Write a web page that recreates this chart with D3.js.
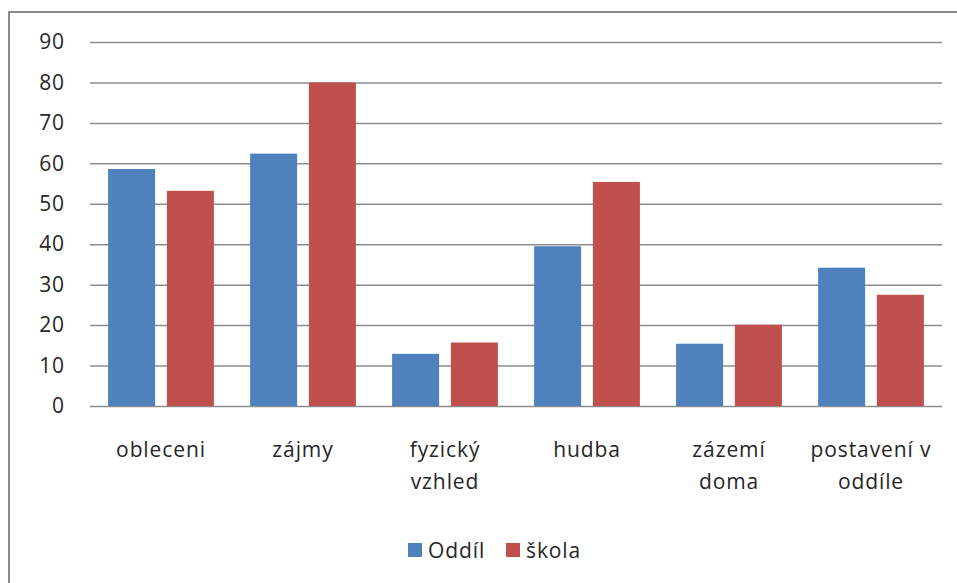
<!DOCTYPE html>
<html>
<head>
<meta charset="utf-8">
<script src="https://cdn.jsdelivr.net/npm/d3@7"></script>
<style>
  body { margin: 0; background: #fff; }
  text { font-family: "Open Sans", sans-serif; fill: #262626; letter-spacing: 0.9px; }
</style>
</head>
<body>
<svg id="chart"></svg>
<script>
// data
var categories = [["obleceni"], ["zájmy"], ["fyzický", "vzhled"], ["hudba"], ["zázemí", "doma"], ["postavení v", "oddíle"]];
var seriesNames = ["Oddíl", "škola"];
var oddil = [58.6, 62.4, 12.9, 39.5, 15.4, 34.2];
var skola = [53.2, 80.0, 15.7, 55.4, 20.1, 27.5];
var yTicks = [0, 10, 20, 30, 40, 50, 60, 70, 80, 90];
var colors = ["#4f81bd", "#c0504d"];

var width = 957, height = 583;
var margin = {top: 42, right: 15, bottom: 177, left: 90};
var innerW = width - margin.left - margin.right,
    innerH = height - margin.top - margin.bottom;

var svg = d3.select("#chart")
    .attr("width", width)
    .attr("height", height);

// outer frame (runs off the right and bottom edge)
svg.append("rect")
    .attr("x", 9).attr("y", 12)
    .attr("width", 960).attr("height", 600)
    .attr("fill", "none")
    .attr("stroke", "#8a8a8a")
    .attr("stroke-width", 2);

var g = svg.append("g")
    .attr("transform", "translate(" + margin.left + "," + margin.top + ")");

var keys = categories.map(function(c) { return c.join(" "); });

var x0 = d3.scaleBand()
    .domain(keys)
    .range([0, innerW])
    .paddingInner(0.255)
    .paddingOuter(0.1275);

var x1 = d3.scaleBand()
    .domain(seriesNames)
    .range([0, x0.bandwidth()])
    .paddingInner(0.2)
    .paddingOuter(0);

var y = d3.scaleLinear()
    .domain([0, 90])
    .range([innerH, 0]);

// gridlines
g.append("g")
    .call(d3.axisLeft(y).tickValues(yTicks).tickSize(-innerW).tickFormat(""))
    .call(function(a) { a.select(".domain").remove(); })
    .selectAll("line")
    .attr("stroke", "#8c8c8c")
    .attr("stroke-width", 1.5);

// y labels
var yAxis = g.append("g")
    .call(d3.axisLeft(y).tickValues(yTicks).tickSize(0).tickPadding(25));
yAxis.select(".domain").remove();
yAxis.selectAll("text")
    .style("font-family", "'Open Sans', sans-serif")
    .style("font-size", "21px")
    .attr("fill", "#262626");

// bars
var rows = keys.map(function(k, i) {
    return {key: k, values: [oddil[i], skola[i]]};
});

var groups = g.selectAll(".grp")
    .data(rows)
    .enter().append("g")
    .attr("class", "grp")
    .attr("transform", function(d) { return "translate(" + x0(d.key) + ",0)"; });

groups.selectAll("rect")
    .data(function(d) { return d.values.map(function(v, j) { return {name: seriesNames[j], value: v, i: j}; }); })
    .enter().append("rect")
    .attr("x", function(d) { return x1(d.name); })
    .attr("y", function(d) { return y(d.value); })
    .attr("width", x1.bandwidth())
    .attr("height", function(d) { return innerH - y(d.value); })
    .attr("fill", function(d) { return colors[d.i]; });

// x labels (wrapped like the original)
var xl = g.append("g").attr("transform", "translate(0," + innerH + ")");
categories.forEach(function(lines, i) {
    var t = xl.append("text")
        .attr("x", x0(keys[i]) + x0.bandwidth() / 2)
        .attr("y", 51)
        .attr("text-anchor", "middle")
        .style("font-size", "21px");
    lines.forEach(function(l, j) {
        t.append("tspan")
            .attr("x", x0(keys[i]) + x0.bandwidth() / 2)
            .attr("dy", j === 0 ? 0 : 32)
            .text(l);
    });
});

// legend
var legend = svg.append("g").attr("transform", "translate(408,543)");
var lx = [0, 98];
seriesNames.forEach(function(n, i) {
    legend.append("rect")
        .attr("x", lx[i]).attr("y", 0)
        .attr("width", 14).attr("height", 14)
        .attr("fill", colors[i]);
    legend.append("text")
        .attr("x", lx[i] + 20).attr("y", 15)
        .style("font-size", "21px")
        .text(n);
});
</script>
</body>
</html>
